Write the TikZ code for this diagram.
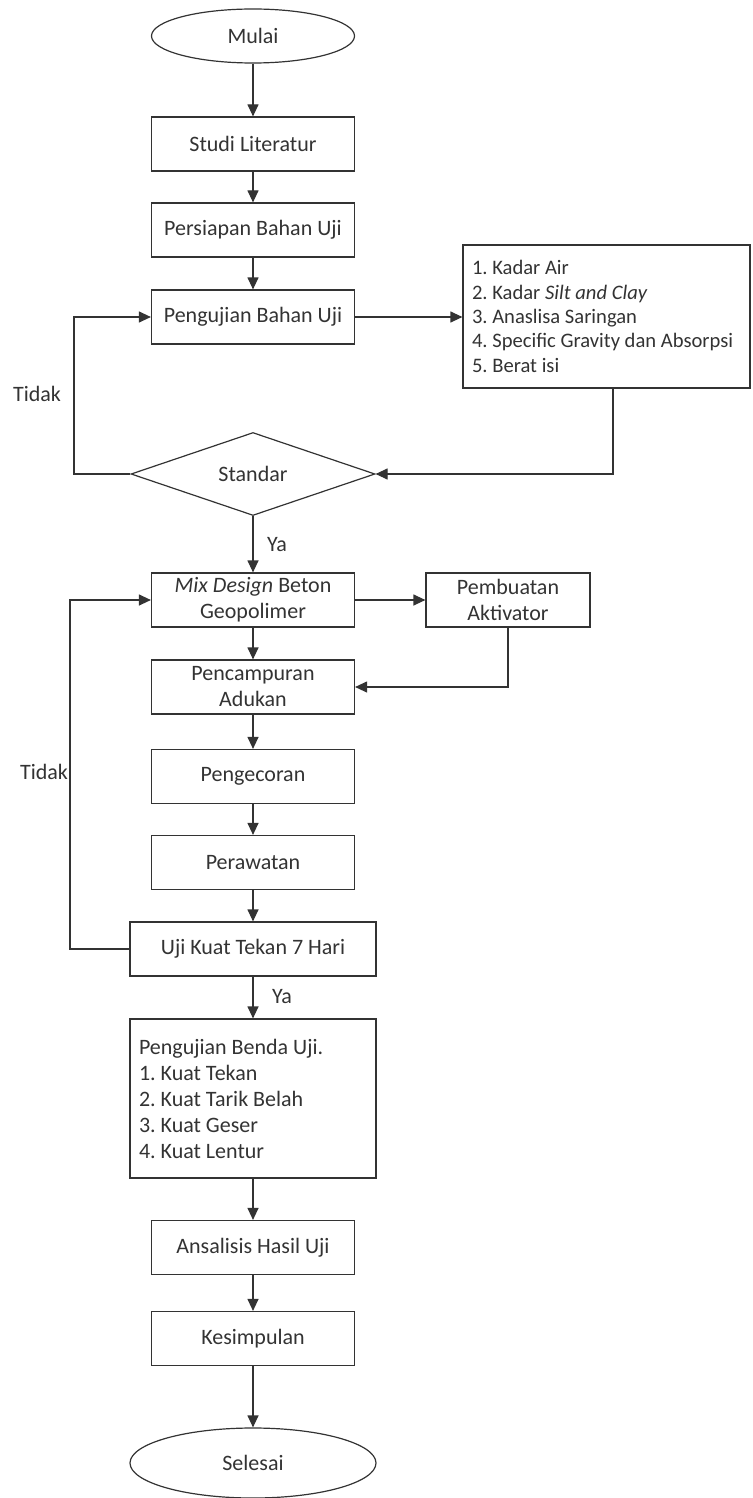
\documentclass[tikz,border=0pt]{standalone}
\usepackage{fontspec}
\setmainfont{Carlito}
\usetikzlibrary{shapes.geometric,arrows.meta}

\tikzset{
  kotak/.style={draw, minimum width=101.5pt, minimum height=27pt, inner sep=2pt, align=center},
  terminal/.style={draw, ellipse, inner sep=0pt},
  keputusan/.style={draw, diamond, aspect=2.9, minimum width=122pt, minimum height=41.5pt, inner sep=0pt},
  daftar/.style={draw, align=flush left, inner sep=4.5pt}
}

\begin{document}
\frenchspacing
\begin{tikzpicture}[x=0.5pt, y=-0.5pt, color=black!80, line width=0.6pt,
    >={Triangle[length=6pt,width=5.5pt]}, font=\fontsize{11}{13}\selectfont]
    \useasboundingbox (0,0) rectangle (752,1498);

    % alur utama
    \node (mulai) at (253,36) [terminal, minimum width=101.5pt, minimum height=27pt] {Mulai};
    \node (studi) at (253,144) [kotak] {Studi Literatur};
    \node (persiapan) at (253,230) [kotak] {Persiapan Bahan Uji};
    \node (pengujian) at (253,317) [kotak] {Pengujian Bahan Uji};
    \node (standar) at (253,474) [keputusan] {Standar};
    \node (mix) at (253,600) [kotak] {\textit{Mix Design} Beton\\Geopolimer};
    \node (pencampuran) at (253,687) [kotak] {Pencampuran\\Adukan};
    \node (pengecoran) at (253,776.5) [kotak] {Pengecoran};
    \node (perawatan) at (253,862.5) [kotak] {Perawatan};
    \node (uji) at (253,949) [kotak, minimum width=123pt] {Uji Kuat Tekan 7 Hari};
    \node (benda) at (253,1098.5) [daftar, text width=114pt, minimum height=79.5pt]
        {Pengujian Benda Uji.\\1. Kuat Tekan\\2. Kuat Tarik Belah\\3. Kuat Geser\\4. Kuat Lentur};
    \node (analisis) at (253,1247.5) [kotak] {Ansalisis Hasil Uji};
    \node (kesimpulan) at (253,1338.5) [kotak] {Kesimpulan};
    \node (selesai) at (253,1463) [terminal, minimum width=123pt, minimum height=35pt] {Selesai};

    % kotak samping
    \node (uraian) at (606.5,316.5) [daftar, text width=134.5pt, minimum height=71.5pt,
        font=\fontsize{10.3}{12.2}\selectfont]
        {1. Kadar Air\\2. Kadar \textit{Silt and Clay}\\3. Anaslisa Saringan\\\mbox{4. Specific Gravity dan Absorpsi}\\5. Berat isi};
    \node (aktivator) at (508,600) [kotak, minimum width=82pt] {Pembuatan\\Aktivator};

    % label keputusan
    \node (tidak1) at (37,394) {Tidak};
    \node (tidak2) at (44,772) {Tidak};
    \node (ya1) at (277,545) {Ya};
    \node (ya2) at (282,997) {Ya};

    % titik belok
    \coordinate (balikA) at (74,474);
    \coordinate (balikB) at (70,949);
    \coordinate (turun) at (613,474);

    % panah
    \draw[->] (mulai) -- (studi);
    \draw[->] (studi) -- (persiapan);
    \draw[->] (persiapan) -- (pengujian);
    \draw[->] (pengujian.east) -- (pengujian.east -| uraian.west);
    \draw[->] (uraian.south -| turun) -- (turun) -- (standar.east);
    \draw[->] (standar.west) -- (balikA) |- (pengujian.west);
    \draw[->] (standar) -- (mix);
    \draw[->] (mix) -- (aktivator);
    \draw[->] (mix) -- (pencampuran);
    \draw[->] (aktivator.south) |- (pencampuran.east);
    \draw[->] (pencampuran) -- (pengecoran);
    \draw[->] (pengecoran) -- (perawatan);
    \draw[->] (perawatan) -- (uji);
    \draw[->] (uji.west) -- (balikB) |- (mix.west);
    \draw[->] (uji) -- (benda);
    \draw[->] (benda) -- (analisis);
    \draw[->] (analisis) -- (kesimpulan);
    \draw[->] (kesimpulan) -- (selesai);

\end{tikzpicture}
\end{document}
